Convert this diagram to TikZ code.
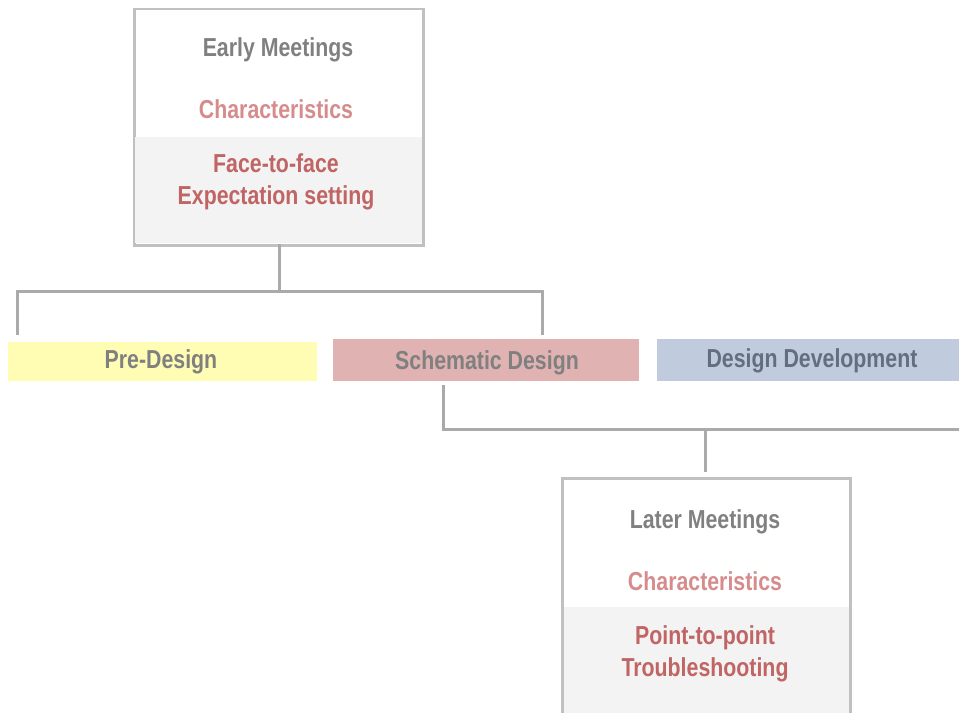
\documentclass[tikz,border=0pt]{standalone}
\usepackage{fontspec}
\setmainfont{Liberation Sans}[FakeStretch=0.82]
\definecolor{txtgray}{RGB}{128,128,128}
\definecolor{charpink}{RGB}{214,140,140}
\definecolor{itemred}{RGB}{192,100,100}
\definecolor{boxline}{RGB}{192,192,192}
\definecolor{connline}{RGB}{170,170,170}
\definecolor{lightshade}{RGB}{243,243,243}
\definecolor{preyellow}{RGB}{255,253,180}
\definecolor{schpink}{RGB}{224,178,178}
\definecolor{devblue}{RGB}{192,203,222}
\definecolor{devtext}{RGB}{100,110,128}
\begin{document}
\begin{tikzpicture}[x=1bp,y=-1bp,
  lbl/.style={anchor=base,inner sep=0pt,font=\fontsize{26bp}{30bp}\selectfont\bfseries},
  conn/.style={draw=connline,line width=3bp},
  frame/.style={draw=boxline,line width=2.5bp}]
\useasboundingbox (0,0) rectangle (959,713);
% top box
\node[frame,anchor=north west,minimum width=289bp,minimum height=236bp,inner sep=0pt] (early) at (133,8) {};
\fill[lightshade] (134.5,137) rectangle (421.5,242.5);
\node[lbl,txtgray] (earlyt) at (278,57) {Early Meetings};
\node[lbl,charpink] (char1) at (276,119) {Characteristics};
\node[lbl,itemred] (face) at (276,173) {Face-to-face};
\node[lbl,itemred] (expect) at (276,204) {Expectation setting};
% bars
\node[fill=preyellow,anchor=north west,minimum width=309bp,minimum height=39bp,inner sep=0pt] (pre) at (8,342) {};
\node[fill=schpink,anchor=north west,minimum width=306bp,minimum height=42bp,inner sep=0pt] (sch) at (333,339) {};
\node[fill=devblue,anchor=north west,minimum width=302bp,minimum height=42bp,inner sep=0pt] (dev) at (657,339) {};
\node[lbl,txtgray] (pret) at (161,368) {Pre-Design};
\node[lbl,txtgray] (scht) at (487,369) {Schematic Design};
\node[lbl,devtext] (devt) at (812,367) {Design Development};
% top connectors
\coordinate (j1) at (279,291);
\coordinate (l1) at (17,291);
\coordinate (r1) at (542,291);
\coordinate (l1e) at (17,335);
\coordinate (r1e) at (542,335);
\draw[conn] ([yshift=3bp]early.south -| j1) -- (j1);
\draw[conn] (l1e) -- (l1) -- (r1) -- (r1e);
% lower connectors
\coordinate (s2) at (443,385);
\coordinate (j2) at (443,429);
\coordinate (e2) at (960,429);
\coordinate (m2) at (705,429);
\coordinate (m2e) at (705,472);
\draw[conn] (s2) -- (j2) -- (e2);
\draw[conn] (m2) -- (m2e);
% lower box (open at bottom)
\fill[lightshade] (563.5,607) rectangle (849.5,714);
\draw[frame] (562.5,714) -- (562.5,478.5) -- (850.5,478.5) -- (850.5,714);
\node[inner sep=0pt,minimum width=288bp,minimum height=236bp,anchor=north west] (later) at (562.5,478.5) {};
\node[lbl,txtgray] (latert) at (705,528) {Later Meetings};
\node[lbl,charpink] (char2) at (705,590) {Characteristics};
\node[lbl,itemred] (point) at (705,644) {Point-to-point};
\node[lbl,itemred] (trouble) at (705,676) {Troubleshooting};
\end{tikzpicture}
\end{document}
